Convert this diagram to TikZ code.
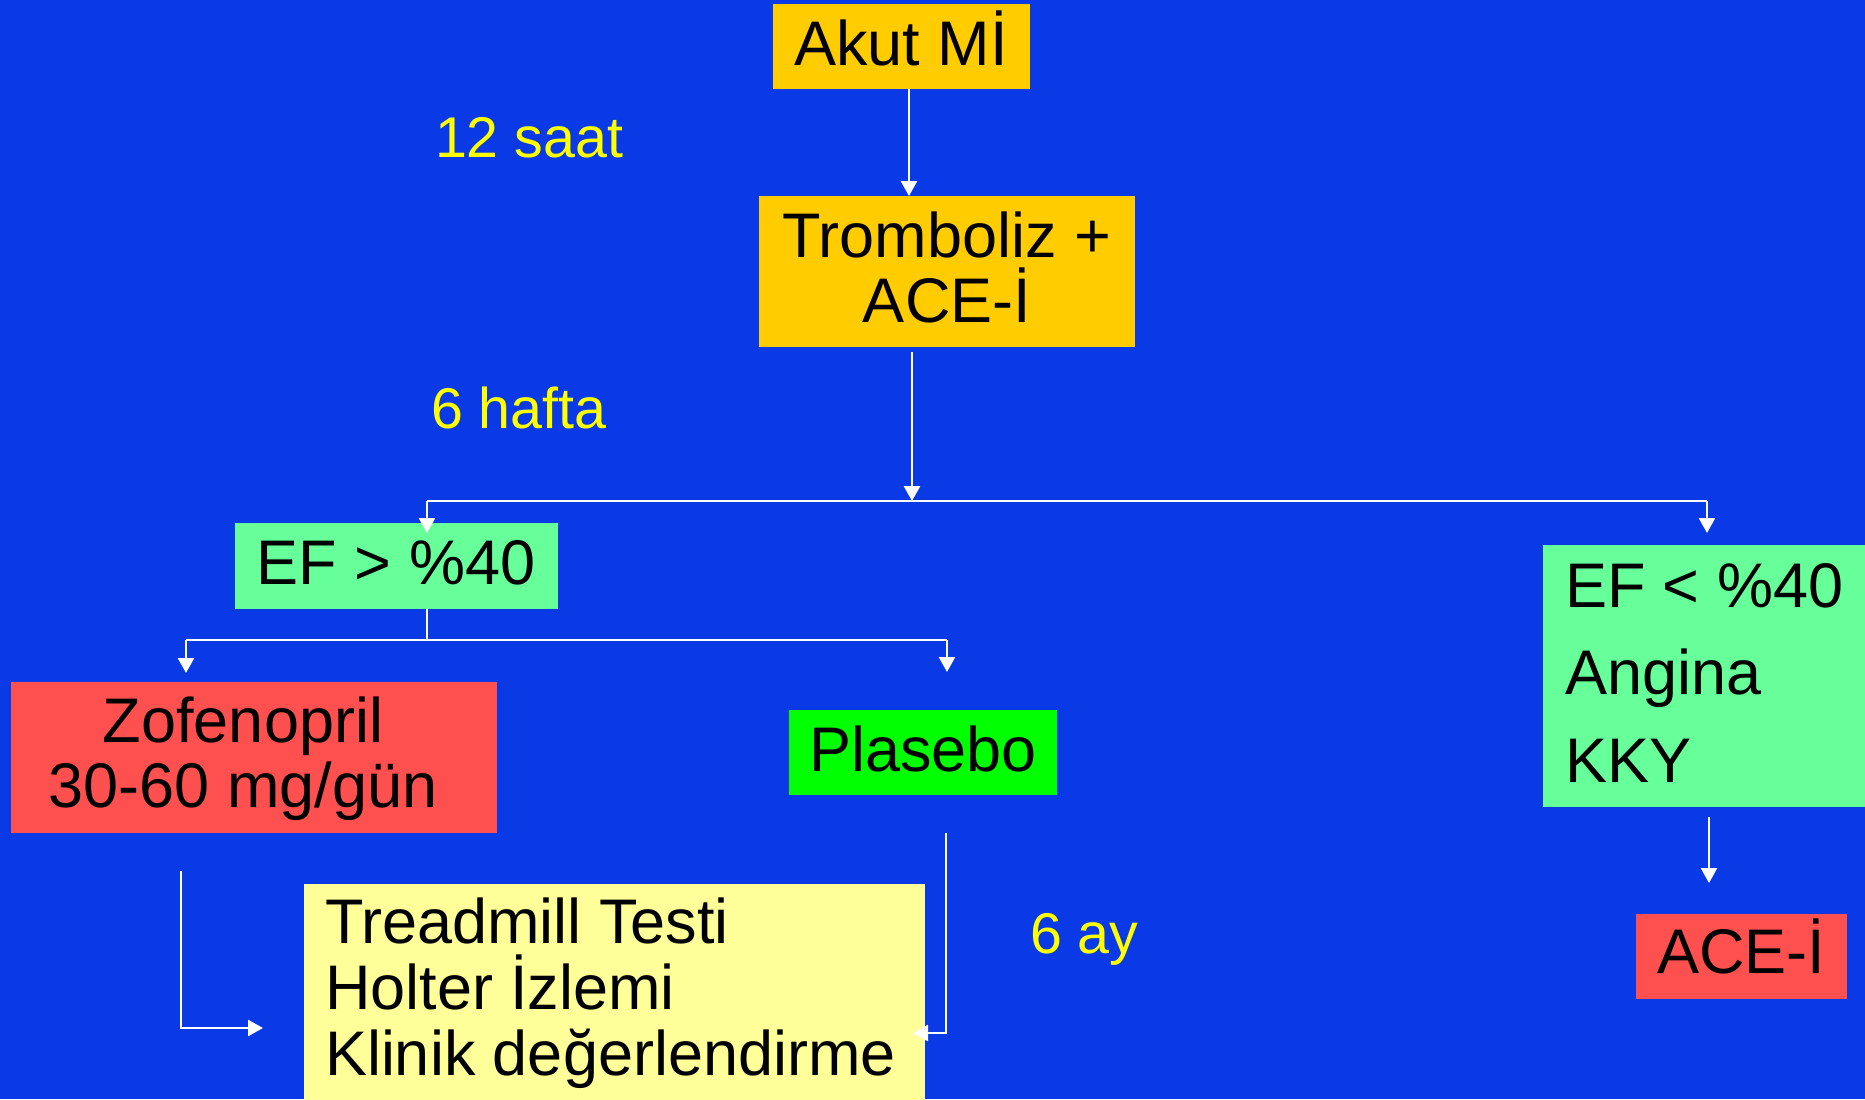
\documentclass[tikz,border=0pt]{standalone}
\usepackage{fontspec}
\setmainfont{Liberation Sans}
\usetikzlibrary{arrows.meta,fit,calc}
\definecolor{bg}{RGB}{10,58,230}
\definecolor{gold}{RGB}{255,204,0}
\definecolor{mint}{RGB}{102,255,153}
\definecolor{salmon}{RGB}{255,80,80}
\definecolor{lime}{RGB}{0,255,0}
\definecolor{cream}{RGB}{255,255,153}
\definecolor{lblcol}{RGB}{255,255,0}
\begin{document}
\begin{tikzpicture}[x=0.5pt,y=-0.5pt,
  box/.style={inner sep=0pt, outer sep=0pt, draw=none},
  txt/.style={inner sep=0pt, outer sep=0pt, font=\fontsize{31.5}{32.5}\selectfont, text=black},
  lbl/.style={inner sep=0pt, outer sep=0pt, font=\fontsize{28.7}{30}\selectfont, text=lblcol},
  arr/.style={draw=white, line width=1.3pt, -{Triangle[length=7.5pt,width=8pt]}},
  con/.style={draw=white, line width=1.3pt}]
\useasboundingbox (0,0) rectangle (1865,1099);
\clip (0,0) rectangle (1865,1099);
\fill[bg] (0,0) rectangle (1865,1099);

% boxes
\node[box, fill=gold, fit={(773,4) (1030,89)}] (akut) {};
\node[box, fill=gold, fit={(759,196) (1135,347)}] (tromb) {};
\node[box, fill=mint, fit={(235,523) (558,609)}] (ef1) {};
\node[box, fill=mint, fit={(1543,545) (1880,807)}] (ef2) {};
\node[box, fill=salmon, fit={(11,682) (497,833)}] (zof) {};
\node[box, fill=lime, fit={(789,710) (1057,795)}] (plas) {};
\node[box, fill=cream, fit={(304,884) (925,1110)}] (yel) {};
\node[box, fill=salmon, fit={(1636,914) (1847,999)}] (ace) {};

% texts (multi-line nodes: base = baseline of last line)
\node[txt, anchor=base] (akutT) at (901,65) {Akut Mİ};
\node[txt, anchor=base, align=center] (trombT) at (947,322) {Tromboliz +\\ACE-İ};
\node[txt, anchor=base] (ef1T) at (396,584) {EF > \%40};
\node[txt, anchor=base west, align=left, font=\fontsize{31.5}{43.75}\selectfont] (ef2T) at (1565,782) {EF < \%40\\Angina\\KKY};
\node[txt, anchor=base, align=center] (zofT) at (243,807) {Zofenopril\\30-60 mg/gün};
\node[txt, anchor=base] (plasT) at (923,771) {Plasebo};
\node[txt, anchor=base west, align=left, font=\fontsize{31.5}{33}\selectfont] (yelT) at (325,1075) {Treadmill Testi\\Holter İzlemi\\Klinik değerlendirme};
\node[txt, anchor=base] (aceT) at (1741,973) {ACE-İ};

% labels
\node[lbl, anchor=base west] (l12) at (435,157) {12 saat};
\node[lbl, anchor=base west] (l6h) at (431,428) {6 hafta};
\node[lbl, anchor=base west] (l6a) at (1030,953) {6 ay};

% connectors
\coordinate (sL) at (427,501);
\coordinate (sR) at (1707,501);
\coordinate (sM) at (912,501);
\coordinate (s2) at (427,640);
\coordinate (s2L) at (186,640);
\coordinate (s2R) at (947,640);

\draw[arr] ([xshift=3.75pt]akut.south) -- ([xshift=3.75pt]akut.south |- tromb.north);
\draw[arr] ($(tromb.south)+(-35,5)$) -- (sM);
\draw[con] (sL) -- (sR);
\draw[arr] (sL) -- ($(sL |- ef1.north)+(0,10)$);
\draw[arr] (sR) -- ($(sR |- ef2.north)+(0,-12)$);
\draw[con] (ef1.south -| s2) -- (s2);
\draw[con] (s2L) -- (s2R);
\draw[arr] (s2L) -- ($(s2L |- zof.north)+(0,-9)$);
\draw[arr] (s2R) -- ($(s2R |- plas.north)+(0,-38)$);
\draw[arr] ($(zof.south)+(-73,38)$) |- ($(yel.north west)+(-41,144)$);
\draw[arr] ($(plas.south)+(23,38)$) |- ($(yel.north east)+(-12,149)$);
\draw[arr] ($(ef2.south)+(-2.5,10)$) -- ($(ace.north)+(-32.5,-31)$);
\end{tikzpicture}
\end{document}
